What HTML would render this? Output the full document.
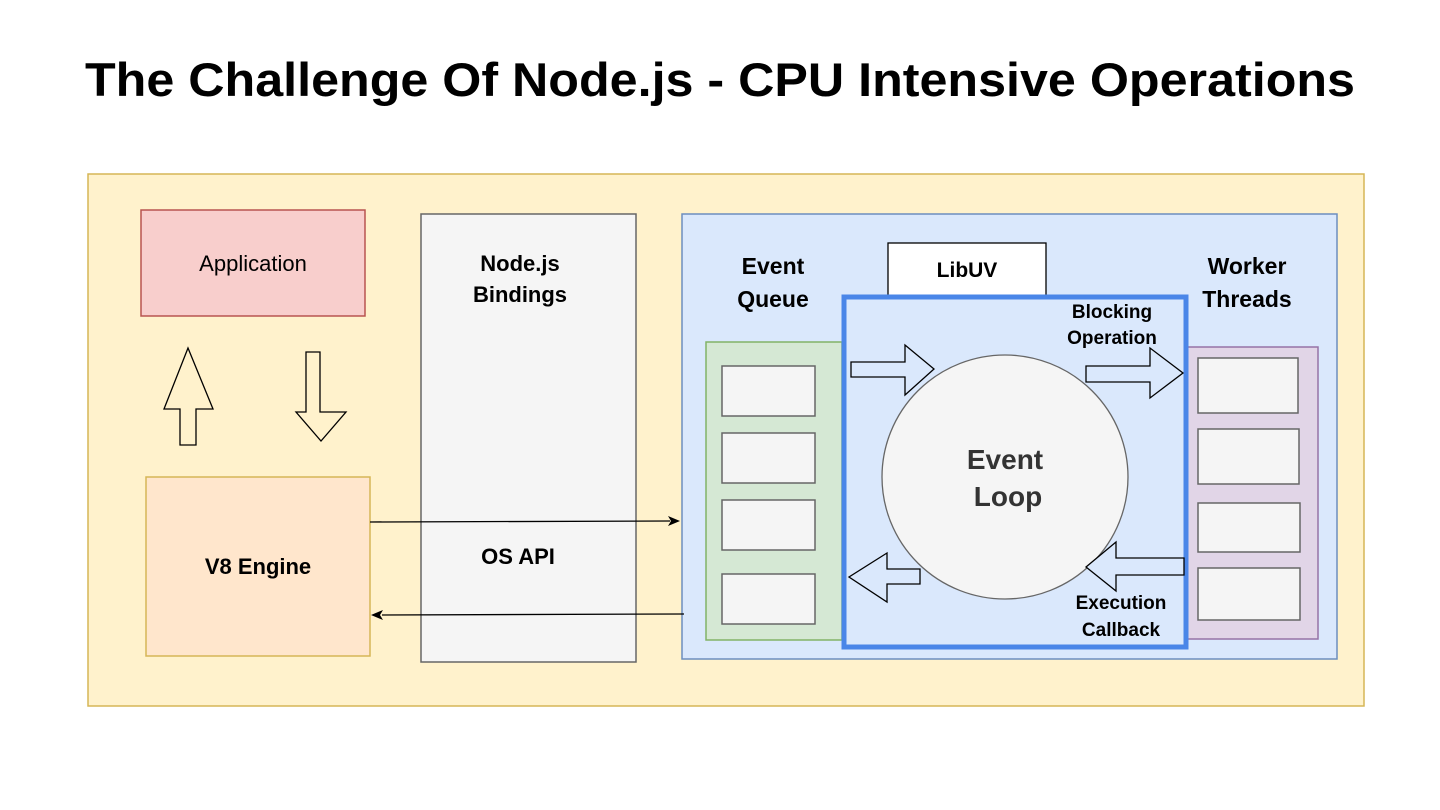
<!DOCTYPE html>
<html><head><meta charset="utf-8"><style>
html,body{margin:0;padding:0;background:#fff;width:1440px;height:810px;overflow:hidden}
svg{display:block;font-family:"Liberation Sans",Arial,sans-serif}
</style></head><body>
<svg width="1440" height="810" viewBox="0 0 1440 810">
<text x="720" y="96" text-anchor="middle" font-size="47" font-weight="bold" textLength="1270" lengthAdjust="spacingAndGlyphs">The Challenge Of Node.js - CPU Intensive Operations</text>
<rect x="88" y="174" width="1276" height="532" fill="#fff2cc" stroke="#d6b656" stroke-width="1.5"/>
<rect x="141" y="210" width="224" height="106" fill="#f8cecc" stroke="#b85450" stroke-width="1.5"/>
<text x="253" y="271" text-anchor="middle" font-size="22">Application</text>
<polygon points="180,445 196,445 196,409 213,409 188,348 164,409 180,409" fill="#fff2cc" stroke="#000" stroke-width="1.3"/>
<polygon points="306,352 320,352 320,412 346,412 321,441 296,412 306,412" fill="#fff2cc" stroke="#000" stroke-width="1.3"/>
<rect x="146" y="477" width="224" height="179" fill="#ffe6cc" stroke="#d6b656" stroke-width="1.5"/>
<text x="258" y="574" text-anchor="middle" font-size="22" font-weight="bold">V8 Engine</text>
<rect x="421" y="214" width="215" height="448" fill="#f5f5f5" stroke="#666" stroke-width="1.5"/>
<text x="520" y="271" text-anchor="middle" font-size="22" font-weight="bold">Node.js</text>
<text x="520" y="302" text-anchor="middle" font-size="22" font-weight="bold">Bindings</text>
<text x="518" y="564" text-anchor="middle" font-size="22" font-weight="bold">OS API</text>
<rect x="682" y="214" width="655" height="445" fill="#dae8fc" stroke="#6c8ebf" stroke-width="1.5"/>
<line x1="370" y1="522" x2="670" y2="521" stroke="#000" stroke-width="1.3"/>
<polygon points="680,521 668,516 671,521 668,526" fill="#000"/>
<line x1="684" y1="614" x2="382" y2="615" stroke="#000" stroke-width="1.3"/>
<polygon points="371,615 383,610 380,615 383,620" fill="#000"/>
<rect x="888" y="243" width="158" height="53" fill="#fff" stroke="#000" stroke-width="1.3"/>
<text x="967" y="277" text-anchor="middle" font-size="21" font-weight="bold">LibUV</text>
<text x="773" y="274" text-anchor="middle" font-size="23" font-weight="bold">Event</text>
<text x="773" y="307" text-anchor="middle" font-size="23" font-weight="bold">Queue</text>
<text x="1247" y="274" text-anchor="middle" font-size="23" font-weight="bold">Worker</text>
<text x="1247" y="307" text-anchor="middle" font-size="23" font-weight="bold">Threads</text>
<rect x="706" y="342" width="136" height="298" fill="#d5e8d4" stroke="#82b366" stroke-width="1.5"/>
<g fill="#f5f5f5" stroke="#666" stroke-width="1.5">
<rect x="722" y="366" width="93" height="50"/><rect x="722" y="433" width="93" height="50"/>
<rect x="722" y="500" width="93" height="50"/><rect x="722" y="574" width="93" height="50"/>
</g>
<rect x="1182" y="347" width="136" height="292" fill="#e1d5e7" stroke="#9673a6" stroke-width="1.5"/>
<g fill="#f5f5f5" stroke="#666" stroke-width="1.5">
<rect x="1198" y="358" width="100" height="55"/><rect x="1198" y="429" width="101" height="55"/>
<rect x="1198" y="503" width="102" height="49"/><rect x="1198" y="568" width="102" height="52"/>
</g>
<rect x="844" y="297" width="342" height="350" fill="#dae8fc" stroke="#4a86e8" stroke-width="5"/>
<ellipse cx="1005" cy="477" rx="123" ry="122" fill="#f5f5f5" stroke="#666" stroke-width="1.3"/>
<text x="1005" y="469" text-anchor="middle" font-size="28" font-weight="bold" fill="#333">Event</text>
<text x="1008" y="506" text-anchor="middle" font-size="28" font-weight="bold" fill="#333">Loop</text>
<text x="1112" y="318" text-anchor="middle" font-size="19" font-weight="bold">Blocking</text>
<text x="1112" y="344" text-anchor="middle" font-size="19" font-weight="bold">Operation</text>
<text x="1121" y="609" text-anchor="middle" font-size="19" font-weight="bold">Execution</text>
<text x="1121" y="636" text-anchor="middle" font-size="19" font-weight="bold">Callback</text>
<g fill="#dae8fc" stroke="#000" stroke-width="1.3">
<polygon points="851,362 851,377 905,377 905,395 934,369 905,345 905,362"/>
<polygon points="1086,366 1086,382 1150,382 1150,398 1183,373 1150,348 1150,366"/>
<polygon points="920,569 920,584 887,584 887,602 849,577 887,553 887,569"/>
<polygon points="1184,558 1184,575 1116,575 1116,591 1086,567 1116,542 1116,558"/>
</g>
</svg>
</body></html>
